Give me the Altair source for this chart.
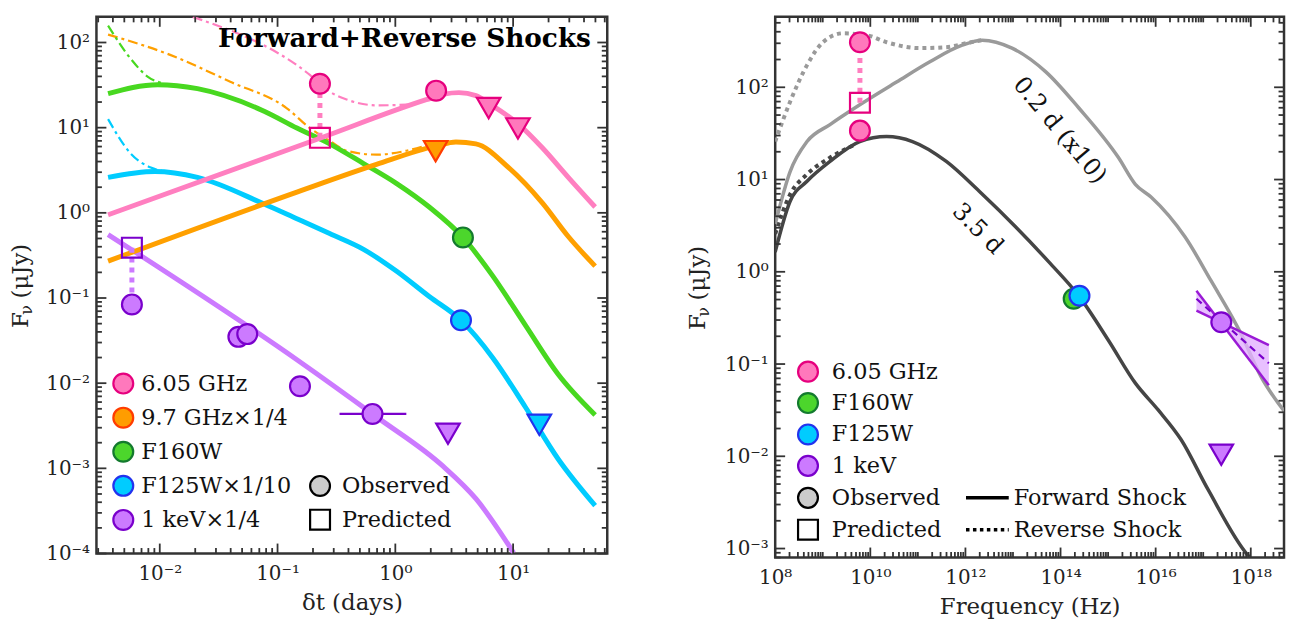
import altair as alt
import pandas as pd

FONT = "DejaVu Serif"
AXC = "#333333"

# ---------------- Left panel: light curves (days, microJy) ----------------
PINK_FS_T = [0.00364, 0.229, 1.83, 2.6, 3.47, 4.83, 6.21, 11.1, 17.7, 29.4, 49.7]
PINK_FS_F = [0.948, 7.52, 21.3, 24.8, 25.8, 23.8, 19.3, 11.0, 5.8, 2.61, 1.17]
PINK_RS_T = [0.0191, 0.188, 0.277, 0.386, 0.692, 1.24, 1.83]
PINK_RS_F = [200, 41.7, 26.5, 21.4, 18.3, 18.6, 21.3]

ORANGE_FS_T = [0.00364, 0.146, 0.692, 2.22, 3.27, 4.83, 9.16, 17.7, 29.4, 49.7]
ORANGE_FS_F = [0.271, 1.75, 3.7, 6.1, 6.8, 6.46, 3.40, 1.31, 0.527, 0.237]
ORANGE_RS_T = [0.00364, 0.0124, 0.0397, 0.120, 0.188, 0.277, 0.386, 0.692, 1.24, 1.90]
ORANGE_RS_F = [124, 71.1, 34.6, 16.9, 9.89, 7.0, 5.36, 4.82, 5.36, 6.3]

GREEN_FS_T = [0.00364, 0.0096, 0.0209, 0.0769, 0.146, 0.277, 0.537, 1.02, 1.94, 3.75, 6.71, 12.7, 24.2, 49.7]
GREEN_FS_F = [25.1, 32.0, 28.7, 15.6, 9.89, 6.46, 3.79, 2.22, 1.17, 0.514, 0.182, 0.048, 0.01265, 0.00424]
GREEN_RS_T = [0.00364, 0.00569, 0.00793, 0.0110]
GREEN_RS_F = [158, 64, 39.5, 32.8]

CYAN_FS_T = [0.00364, 0.00908, 0.0209, 0.0769, 0.146, 0.277, 0.537, 1.02, 1.94, 3.61, 6.71, 12.7, 24.2, 49.7]
CYAN_FS_F = [2.61, 3.06, 2.61, 1.27, 0.853, 0.571, 0.373, 0.207, 0.104, 0.0547, 0.0199, 0.00525, 0.00128, 0.000365]
CYAN_RS_T = [0.00364, 0.00569, 0.00839, 0.0105]
CYAN_RS_F = [12.6, 4.94, 3.40, 3.1]

VIOLET_FS_T = [0.00364, 0.146, 0.692, 2.54, 4.83, 10.1]
VIOLET_FS_F = [0.556, 0.01884, 0.00402, 0.00106, 0.00044, 0.000102]

# observed / predicted points (left)
PINK_OBS_T = [0.229, 2.22]
PINK_OBS_F = [32.8, 27.2]
PINK_PRED_T = [0.229]
PINK_PRED_F = [7.6]
PINK_UL_T = [6.2, 11.0]
PINK_UL_F = [17.0, 9.8]
ORANGE_UL_T = [2.2]
ORANGE_UL_F = [5.3]
GREEN_OBS_T = [3.75]
GREEN_OBS_F = [0.514]
CYAN_OBS_T = [3.61]
CYAN_OBS_F = [0.0547]
CYAN_UL_T = [16.7]
CYAN_UL_F = [0.00325]
VIOLET_OBS_T = [0.0058, 0.0465, 0.0553, 0.155, 0.64]
VIOLET_OBS_F = [0.084, 0.035, 0.0377, 0.0092, 0.00435]
VIOLET_XERR_LO = [0.336]
VIOLET_XERR_HI = [1.24]
VIOLET_XERR_F = [0.00435]
VIOLET_PRED_T = [0.0058]
VIOLET_PRED_F = [0.39]
VIOLET_UL_T = [2.8]
VIOLET_UL_F = [0.00255]

LEFT_LEG_LABELS = ["6.05 GHz", "9.7 GHz\u00d71/4", "F160W", "F125W\u00d71/10", "1 keV\u00d71/4"]

# ---------------- Right panel: spectra (Hz, microJy) ----------------
GRAY_FS_NU = [1e8, 2.06e8, 4.67e8, 1.42e9, 6.0e9, 3.56e10, 1.75e11, 8.57e11, 2.24e12, 9.53e12, 4.9e13,
              2.4e14, 1.65e15, 3.74e15, 8.09e15, 4.16e16, 1.46e17, 6.18e17, 1.62e18, 5.4e18]
GRAY_FS_F = [3.29, 12.2, 25.8, 39.4, 64.6, 114, 188, 286, 324, 266, 147,
             60, 17.3, 8.87, 6.43, 2.38, 0.8, 0.215, 0.074, 0.0295]
GRAY_RS_NU = [1e8, 2.06e8, 4.67e8, 1.01e9, 2.65e9, 8.41e9, 2.2e10, 1.08e11, 3.96e11, 1.04e12, 2.24e12]
GRAY_RS_F = [25.8, 69.7, 174, 308, 385, 367, 308, 266, 272, 301, 324]
DARK_FS_NU = [1e8, 2.06e8, 4.67e8, 1.42e9, 6.0e9, 2.2e10, 7.7e10, 3.96e11, 1.95e12, 5.66e13, 2.4e14,
              1.02e15, 3.74e15, 1.13e16, 3.44e16, 1.26e17, 8.65e17, 9.6e17]
DARK_FS_F = [1.64, 5.82, 9.57, 15.7, 25.8, 29.2, 25.8, 15.7, 7.46, 1.28, 0.551,
             0.180, 0.0621, 0.0318, 0.0151, 0.00437, 0.000849, 0.0008]
DARK_RS_NU = [1e8, 2.06e8, 4.67e8, 1.42e9, 4.72e9]
DARK_RS_F = [2.57, 6.92, 11.4, 17.3, 23.9]

R_PINK_OBS_NU = [6.05e9, 6.05e9]
R_PINK_OBS_F = [308, 33.9]
R_PINK_PRED_NU = [6.05e9]
R_PINK_PRED_F = [68]
R_GREEN_OBS_NU = [1.89e14]
R_GREEN_OBS_F = [0.51]
R_CYAN_OBS_NU = [2.5e14]
R_CYAN_OBS_F = [0.55]
R_VIOLET_OBS_NU = [2.4e17]
R_VIOLET_OBS_F = [0.284]
R_VIOLET_UL_NU = [2.4e17]
R_VIOLET_UL_F = [0.0104]
# X-ray bowtie (0.3-10 keV)
BOW_NU = [7.2e16, 2.4e17, 2.4e18]
BOW_UP = [0.624, 0.284, 0.16]
BOW_LO = [0.38, 0.284, 0.059]
BOW_STEEP = [0.624, 0.059]
BOW_SHALLOW = [0.38, 0.16]
BOW_MID = [0.51, 0.102]
BOW_END_NU = [7.2e16, 2.4e18]

RIGHT_LEG_LABELS = ["6.05 GHz", "F160W", "F125W", "1 keV"]

# ---------------- colours ----------------
PINK_L, PINK_F, PINK_E = "#ff7fc0", "#ff78bc", "#e6007e"
ORANGE_L, ORANGE_F, ORANGE_E = "#ffa000", "#ff9d00", "#ff3c00"
GREEN_L, GREEN_F, GREEN_E = "#48d820", "#4cd62c", "#137a2e"
CYAN_L, CYAN_F, CYAN_E = "#00ccff", "#00ccff", "#2233ee"
VIOL_L, VIOL_F, VIOL_E = "#cc7aff", "#cc7aff", "#7a00cc"
GRAY_L, DARK_L = "#9a9a9a", "#454545"

LEFT_LEG_FILL = [PINK_F, ORANGE_F, GREEN_F, CYAN_F, VIOL_F]
LEFT_LEG_EDGE = [PINK_E, ORANGE_E, GREEN_E, CYAN_E, VIOL_E]
RIGHT_LEG_FILL = [PINK_F, GREEN_F, CYAN_F, VIOL_F]
RIGHT_LEG_EDGE = [PINK_E, GREEN_E, CYAN_E, VIOL_E]

# ---------------- scales / sizes ----------------
LW, LH = 514, 540
RW, RH = 512, 544
LXD, LYD = [2.9e-3, 63], [1e-4, 200]
RXD, RYD = [1e8, 5e18], [8e-4, 580]
LEG_FS = 22.5

SUP = str.maketrans("-0123456789", "\u207b\u2070\u00b9\u00b2\u00b3\u2074\u2075\u2076\u2077\u2078\u2079")


def label_expr(exps):
    expr = "''"
    for e in exps:
        expr = f"round(log(datum.value)/LN10)=={e} ? '10{str(e).translate(SUP)}' : ({expr})"
    return expr


COMMON_AX = dict(ticks=False, domain=False, grid=False, labelFont=FONT, labelFontSize=20,
                 labelColor="#222222", titleFont=FONT, titleFontSize=23, titleFontWeight="normal",
                 titleColor="#222222", labelFlush=False, labelOverlap=False)


def make_panel(xd, yd, xlab_exp, ylab_exp, xtitle):
    return dict(
        xs=alt.Scale(type="log", domain=xd, nice=False),
        ys=alt.Scale(type="log", domain=yd, nice=False),
        xa=alt.Axis(values=[10.0 ** e for e in xlab_exp], labelExpr=label_expr(xlab_exp), title=xtitle,
                    labelPadding=10, titlePadding=8, **COMMON_AX),
        ya=alt.Axis(values=[10.0 ** e for e in ylab_exp], labelExpr=label_expr(ylab_exp), title="",
                    labelPadding=7, **COMMON_AX),
        xd=xd, yd=yd,
    )


def X(P, f="x"):
    return alt.X(f"{f}:Q", scale=P["xs"], axis=P["xa"])


def Y(P, f="y"):
    return alt.Y(f"{f}:Q", scale=P["ys"], axis=P["ya"])


def line(P, xv, yv, color, width, dash=None, interp="monotone"):
    kw = dict(color=color, strokeWidth=width, clip=True, interpolate=interp)
    if dash:
        kw["strokeDash"] = dash
    return alt.Chart(pd.DataFrame({"x": xv, "y": yv})).mark_line(**kw).encode(x=X(P), y=Y(P))


def pts(P, xv, yv, shape, fill, edge, size, sw=2.2, filled=True):
    kw = dict(shape=shape, size=size, stroke=edge, strokeWidth=sw, opacity=1, clip=True)
    if filled:
        kw.update(filled=True, fill=fill, fillOpacity=1)
    else:
        kw.update(filled=False, fillOpacity=0)
    return alt.Chart(pd.DataFrame({"x": xv, "y": yv})).mark_point(**kw).encode(x=X(P), y=Y(P))


def vconn(P, xv, y1, y2, color, width, dash):
    df = pd.DataFrame({"x": xv, "y": y1, "y2": y2})
    return alt.Chart(df).mark_rule(color=color, strokeWidth=width, strokeDash=dash).encode(
        x=X(P), y=Y(P), y2="y2:Q")


def ticks(P, W, H, xmaj_exp, xmin_vals, ymaj_exp, ymin_vals):
    layers = []
    xd, yd = P["xd"], P["yd"]
    xmaj = [10.0 ** e for e in xmaj_exp]
    ymaj = [10.0 ** e for e in ymaj_exp]
    inx = lambda v: xd[0] <= v <= xd[1]
    iny = lambda v: yd[0] <= v <= yd[1]
    for vals, L in [([v for v in xmaj if inx(v)], 10), ([v for v in xmin_vals if inx(v)], 5.5)]:
        c = alt.Chart(pd.DataFrame({"x": vals})).mark_rule(color=AXC, strokeWidth=1.8)
        layers.append(c.encode(x=X(P), y=alt.value(H), y2=alt.value(H - L)))
        layers.append(c.encode(x=X(P), y=alt.value(0), y2=alt.value(L)))
    for vals, L in [([v for v in ymaj if iny(v)], 10), ([v for v in ymin_vals if iny(v)], 5.5)]:
        c = alt.Chart(pd.DataFrame({"y": vals})).mark_rule(color=AXC, strokeWidth=1.8)
        layers.append(c.encode(y=Y(P), x=alt.value(0), x2=alt.value(L)))
        layers.append(c.encode(y=Y(P), x=alt.value(W), x2=alt.value(W - L)))
    return layers


def text_at(x, y, label, size=LEG_FS, weight="normal", align="left", angle=0, baseline="middle", color="#111111"):
    d = pd.DataFrame({"label": [label]})
    kw = dict(font=FONT, fontSize=size, fontWeight=weight, align=align, baseline=baseline, color=color)
    if angle:
        kw["angle"] = angle
    return alt.Chart(d).mark_text(**kw).encode(x=alt.value(x), y=alt.value(y), text="label:N")


def ytitle(x0, ybottom, fs=23):
    # "F" + subscript "nu" + " (muJy)", rotated to read bottom-to-top
    fw = 0.575 * fs
    nw = 0.56 * (fs * 0.7)
    sp = 0.32 * fs
    col = "#222222"
    return [
        text_at(x0, ybottom, "F", size=fs, align="left", angle=270, color=col),
        text_at(x0 + 6, ybottom - fw, "\u03bd", size=fs * 0.7, align="left", angle=270, color=col),
        text_at(x0, ybottom - fw - nw - sp, "(\u03bcJy)", size=fs, align="left", angle=270, color=col),
    ]


def sym_at(x, y, shape, fill, edge, filled=True):
    d = pd.DataFrame({"label": ["s"]})
    kw = dict(shape=shape, stroke=edge, strokeWidth=2.2, size=400, opacity=1)
    if filled:
        kw.update(filled=True, fill=fill, fillOpacity=1)
    else:
        kw.update(filled=False, fillOpacity=0)
    return alt.Chart(d).mark_point(**kw).encode(x=alt.value(x), y=alt.value(y))


def legend_rows(labels, fills, edges, x0, tx, y0, dy):
    layers = []
    for i, (lab, f, e) in enumerate(zip(labels, fills, edges)):
        layers.append(sym_at(x0, y0 + i * dy, "circle", f, e))
        layers.append(text_at(tx, y0 + i * dy, lab))
    return layers


def minor_vals(lo, hi):
    out = []
    for e in range(lo, hi + 1):
        for m in range(2, 10):
            out.append(m * 10.0 ** e)
    return out


DASHDOT = [10, 4, 3, 4]

# ================= LEFT PANEL =================
PL = make_panel(LXD, LYD, [-2, -1, 0, 1], [-4, -3, -2, -1, 0, 1, 2], "\u03b4t (days)")
L = [
    line(PL, PINK_RS_T, PINK_RS_F, PINK_L, 2.2, DASHDOT),
    line(PL, ORANGE_RS_T, ORANGE_RS_F, ORANGE_L, 2.2, DASHDOT),
    line(PL, GREEN_RS_T, GREEN_RS_F, GREEN_L, 2.2, DASHDOT),
    line(PL, CYAN_RS_T, CYAN_RS_F, CYAN_L, 2.2, DASHDOT),
    line(PL, VIOLET_FS_T, VIOLET_FS_F, VIOL_L, 5),
    line(PL, CYAN_FS_T, CYAN_FS_F, CYAN_L, 5),
    line(PL, GREEN_FS_T, GREEN_FS_F, GREEN_L, 5),
    line(PL, ORANGE_FS_T, ORANGE_FS_F, ORANGE_L, 5),
    line(PL, PINK_FS_T, PINK_FS_F, PINK_L, 5),
    vconn(PL, PINK_PRED_T, PINK_PRED_F, [PINK_OBS_F[0]], PINK_L, 5, [5, 5]),
    vconn(PL, VIOLET_PRED_T, VIOLET_PRED_F, [VIOLET_OBS_F[0]], VIOL_L, 5, [5, 5]),
    alt.Chart(pd.DataFrame({"x": VIOLET_XERR_LO, "x2": VIOLET_XERR_HI, "y": VIOLET_XERR_F}))
    .mark_rule(color=VIOL_E, strokeWidth=2.2).encode(x=X(PL), x2="x2:Q", y=Y(PL)),
    pts(PL, PINK_OBS_T, PINK_OBS_F, "circle", PINK_F, PINK_E, 400),
    pts(PL, PINK_PRED_T, PINK_PRED_F, "square", None, PINK_E, 400, filled=False),
    pts(PL, PINK_UL_T, PINK_UL_F, "triangle-down", PINK_F, PINK_E, 560),
    pts(PL, ORANGE_UL_T, ORANGE_UL_F, "triangle-down", ORANGE_F, ORANGE_E, 560),
    pts(PL, GREEN_OBS_T, GREEN_OBS_F, "circle", GREEN_F, GREEN_E, 400),
    pts(PL, CYAN_OBS_T, CYAN_OBS_F, "circle", CYAN_F, CYAN_E, 400),
    pts(PL, CYAN_UL_T, CYAN_UL_F, "triangle-down", CYAN_F, CYAN_E, 560),
    pts(PL, VIOLET_OBS_T, VIOLET_OBS_F, "circle", VIOL_F, VIOL_E, 400),
    pts(PL, VIOLET_PRED_T, VIOLET_PRED_F, "square", None, VIOL_E, 400, filled=False),
    pts(PL, VIOLET_UL_T, VIOLET_UL_F, "triangle-down", VIOL_F, VIOL_E, 560),
]
L += legend_rows(LEFT_LEG_LABELS, LEFT_LEG_FILL, LEFT_LEG_EDGE, 27, 45, 369, 34.3)
L += [
    sym_at(225, 472, "circle", "#cccccc", "#000000"),
    text_at(247, 472, "Observed"),
    sym_at(225, 506, "square", None, "#000000", filled=False),
    text_at(247, 506, "Predicted"),
    text_at(310, 22, "Forward+Reverse Shocks", size=26.5, weight="bold", align="center", color="#000000"),
]
L += ytitle(-76, LH / 2 + 43)
L += ticks(PL, LW, LH, list(range(-3, 3)), minor_vals(-3, 1), list(range(-4, 3)), minor_vals(-4, 2))
left = alt.layer(*L).properties(width=LW, height=LH)

# ================= RIGHT PANEL =================
PR = make_panel(RXD, RYD, [8, 10, 12, 14, 16, 18], [-3, -2, -1, 0, 1, 2], "Frequency (Hz)")
bow = pd.DataFrame({"x": BOW_NU, "y": BOW_UP, "y2": BOW_LO})
R = [
    line(PR, GRAY_RS_NU, GRAY_RS_F, GRAY_L, 4, [4, 4]),
    line(PR, DARK_RS_NU, DARK_RS_F, DARK_L, 4, [4, 4]),
    line(PR, GRAY_FS_NU, GRAY_FS_F, GRAY_L, 3.5),
    line(PR, DARK_FS_NU, DARK_FS_F, DARK_L, 3.5),
    alt.Chart(bow).mark_area(color="#e2b0ff", opacity=0.8, interpolate="linear")
    .encode(x=X(PR), y=Y(PR), y2="y2:Q"),
    line(PR, BOW_END_NU, BOW_STEEP, "#9a1ad6", 2.5, interp="linear"),
    line(PR, BOW_END_NU, BOW_SHALLOW, "#9a1ad6", 2.5, interp="linear"),
    line(PR, BOW_END_NU, BOW_MID, "#7a00cc", 2.2, [7, 5], interp="linear"),
    vconn(PR, [R_PINK_PRED_NU[0]], [R_PINK_PRED_F[0]], [R_PINK_OBS_F[0]], PINK_L, 5, [5, 5]),
    pts(PR, R_PINK_OBS_NU, R_PINK_OBS_F, "circle", PINK_F, PINK_E, 400),
    pts(PR, R_PINK_PRED_NU, R_PINK_PRED_F, "square", None, PINK_E, 400, filled=False),
    pts(PR, R_GREEN_OBS_NU, R_GREEN_OBS_F, "circle", GREEN_F, GREEN_E, 400),
    pts(PR, R_CYAN_OBS_NU, R_CYAN_OBS_F, "circle", CYAN_F, CYAN_E, 400),
    pts(PR, R_VIOLET_OBS_NU, R_VIOLET_OBS_F, "circle", VIOL_F, VIOL_E, 400),
    pts(PR, R_VIOLET_UL_NU, R_VIOLET_UL_F, "triangle-down", VIOL_F, VIOL_E, 560),
    alt.Chart(pd.DataFrame({"x": [9.5e13], "y": [34], "label": ["0.2 d (x10)"]}))
    .mark_text(font=FONT, fontSize=24, angle=50, align="center", baseline="middle", color="#111111")
    .encode(x=X(PR), y=Y(PR), text="label:N"),
    alt.Chart(pd.DataFrame({"x": [1.8e12], "y": [2.9], "label": ["3.5 d"]}))
    .mark_text(font=FONT, fontSize=24, angle=45, align="center", baseline="middle", color="#111111")
    .encode(x=X(PR), y=Y(PR), text="label:N"),
]
R += legend_rows(RIGHT_LEG_LABELS, RIGHT_LEG_FILL, RIGHT_LEG_EDGE, 33, 57, 357, 31.6)
d_fs = pd.DataFrame({"label": ["Forward Shock"]})
R += [
    sym_at(33, 484, "circle", "#cccccc", "#000000"),
    text_at(57, 484, "Observed"),
    sym_at(33, 516, "square", None, "#000000", filled=False),
    text_at(57, 516, "Predicted"),
    alt.Chart(d_fs).mark_rule(color="#000000", strokeWidth=3.5)
    .encode(x=alt.value(192), x2=alt.value(235), y=alt.value(484)),
    text_at(240, 484, "Forward Shock"),
    alt.Chart(d_fs).mark_rule(color="#000000", strokeWidth=3.5, strokeDash=[3.5, 3.5])
    .encode(x=alt.value(192), x2=alt.value(235), y=alt.value(516)),
    text_at(240, 516, "Reverse Shock"),
]
R += ytitle(-78, RH / 2 + 43)
r_minor = minor_vals(8, 18) + [10.0 ** e for e in range(9, 19, 2)]
R += ticks(PR, RW, RH, [8, 10, 12, 14, 16, 18], r_minor, list(range(-3, 3)), minor_vals(-4, 2))
right = alt.layer(*R).properties(width=RW, height=RH,
                                 title=alt.TitleParams(text=" ", fontSize=1, offset=3))

chart = (
    alt.hconcat(left, right, spacing=75)
    .properties(padding={"left": 0, "top": 0, "right": 0, "bottom": 0})
    .configure_view(stroke=AXC, strokeWidth=2.5)
)
chart.save("out.html", embed_options={"renderer": "svg", "actions": False})
